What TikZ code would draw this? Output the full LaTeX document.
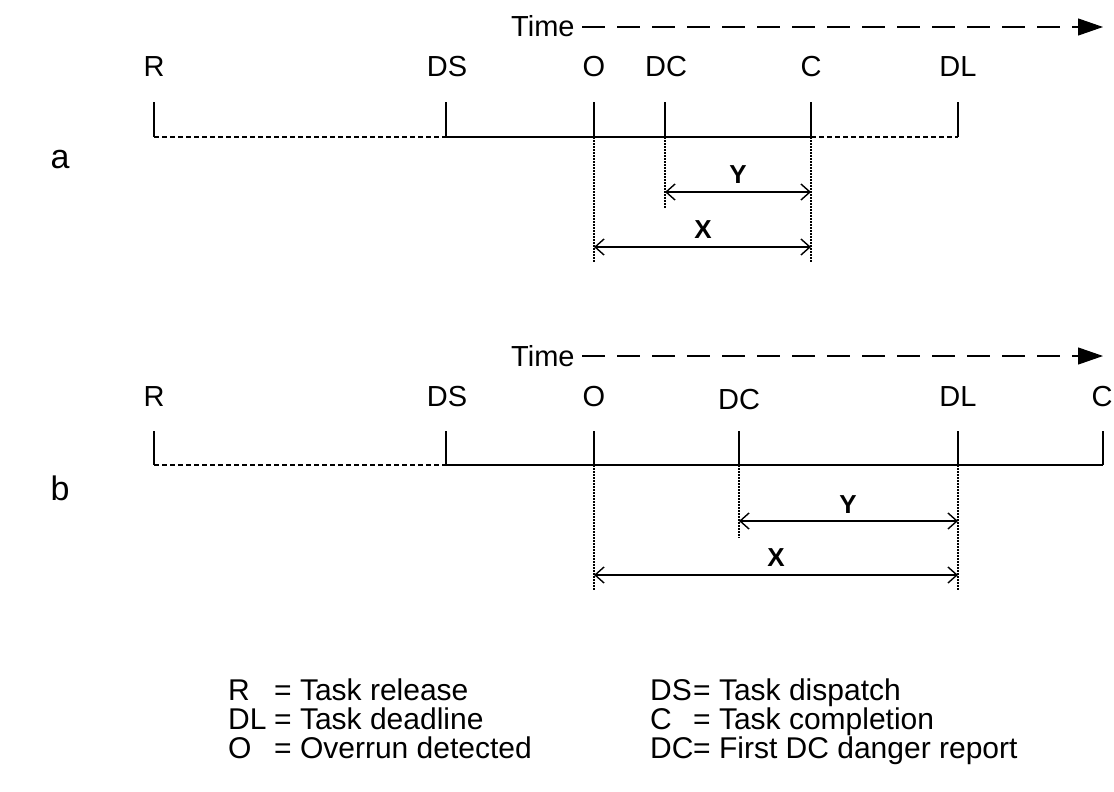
\documentclass[tikz,border=0pt]{standalone}
\usepackage{fontspec}
\setmainfont{Liberation Sans}
\usetikzlibrary{arrows.meta}
\tikzset{
  lab/.style={font=\fontsize{29}{34}\selectfont, inner sep=0pt, anchor=base},
  timelab/.style={font=\fontsize{29}{34}\selectfont, inner sep=0pt, anchor=base west},
  panel/.style={font=\fontsize{34}{40}\selectfont, inner sep=0pt},
  dimlab/.style={font=\bfseries\fontsize{26}{30}\selectfont, inner sep=0pt},
  leg/.style={font=\fontsize{30}{34}\selectfont, inner sep=0pt, anchor=base west},
  tick/.style={line width=1.4pt},
  solidbase/.style={line width=1.4pt},
  dashbase/.style={line width=1.4pt, dash pattern=on 5pt off 3pt},
  guide/.style={line width=1.2pt, dash pattern=on 1.5pt off 1.5pt},
  dimarrow/.style={line width=1.4pt, {Straight Barb[length=9pt,width=16pt]}-{Straight Barb[length=9pt,width=16pt]}},
  timearrow/.style={line width=1.2pt, dash pattern=on 23pt off 12pt, -{Triangle[length=25pt,width=17pt]}},
}
\begin{document}
\begin{tikzpicture}[x=1pt,y=-1pt]
\useasboundingbox (0,0) rectangle (1114,792);

% ---------------- panel a ----------------
\node[panel] (pa) at (60,160) {a};
\node[timelab] (timea) at (511,37) {Time};
\coordinate (timeastart) at (582,27);
\coordinate (timeaend) at (1103,27);
\draw[timearrow] (timeastart) -- (timeaend);

\node[lab] (aRl)  at (154,77) {R};
\node[lab] (aDSl) at (447,77) {DS};
\node[lab] (aOl)  at (594,77) {O};
\node[lab] (aDCl) at (666,77) {DC};
\node[lab] (aCl)  at (811,77) {C};
\node[lab] (aDLl) at (958,77) {DL};

\foreach \n/\x in {R/154, DS/446, O/594, DC/665, C/811, DL/958}{
  \coordinate (a\n t) at (\x,102);
  \coordinate (a\n b) at (\x,137);
  \draw[tick] (a\n t) -- (a\n b);
}
\draw[dashbase] (aRb) -- (aDSb);
\draw[solidbase] (aDSb) -- (aCb);
\draw[dashbase] (aCb) -- (aDLb);

\coordinate (aOd) at (594,262);
\coordinate (aDCd) at (665,208);
\coordinate (aCd) at (811,262);
\draw[guide] (aOb) -- (aOd);
\draw[guide] (aDCb) -- (aDCd);
\draw[guide] (aCb) -- (aCd);

\coordinate (aY1) at (665,192);
\coordinate (aY2) at (811,192);
\draw[dimarrow] (aY1) -- (aY2);
\node[dimlab] (aY) at (738,175) {Y};
\coordinate (aX1) at (594,247);
\coordinate (aX2) at (811,247);
\draw[dimarrow] (aX1) -- (aX2);
\node[dimlab] (aX) at (703,230) {X};

% ---------------- panel b ----------------
\node[panel] (pb) at (60,488) {b};
\node[timelab] (timeb) at (511,366) {Time};
\coordinate (timebstart) at (582,356);
\coordinate (timebend) at (1103,356);
\draw[timearrow] (timebstart) -- (timebend);

\node[lab] (bRl)  at (154,406) {R};
\node[lab] (bDSl) at (447,406) {DS};
\node[lab] (bOl)  at (594,406) {O};
\node[lab] (bDCl) at (739,409) {DC};
\node[lab] (bDLl) at (958,406) {DL};
\node[lab] (bCl)  at (1102,406) {C};

\foreach \n/\x in {R/154, DS/446, O/594, DC/739, DL/958, C/1103}{
  \coordinate (b\n t) at (\x,431);
  \coordinate (b\n b) at (\x,465);
  \draw[tick] (b\n t) -- (b\n b);
}
\draw[dashbase] (bRb) -- (bDSb);
\draw[solidbase] (bDSb) -- (bCb);

\coordinate (bOd) at (594,590);
\coordinate (bDCd) at (739,538);
\coordinate (bDLd) at (958,590);
\draw[guide] (bOb) -- (bOd);
\draw[guide] (bDCb) -- (bDCd);
\draw[guide] (bDLb) -- (bDLd);

\coordinate (bY1) at (739,521);
\coordinate (bY2) at (958,521);
\draw[dimarrow] (bY1) -- (bY2);
\node[dimlab] (bY) at (848,505) {Y};
\coordinate (bX1) at (594,575);
\coordinate (bX2) at (958,575);
\draw[dimarrow] (bX1) -- (bX2);
\node[dimlab] (bX) at (776,558) {X};

% ---------------- legend ----------------
\node[leg] (l1a) at (228,700) {R};
\node[leg] (l1b) at (274,700) {= Task release};
\node[leg] (l2a) at (228,729) {DL};
\node[leg] (l2b) at (274,729) {= Task deadline};
\node[leg] (l3a) at (228,758) {O};
\node[leg] (l3b) at (274,758) {= Overrun detected};

\node[leg] (r1a) at (650,700) {DS};
\node[leg] (r1b) at (693,700) {= Task dispatch};
\node[leg] (r2a) at (650,729) {C};
\node[leg] (r2b) at (693,729) {= Task completion};
\node[leg] (r3a) at (650,758) {DC};
\node[leg] (r3b) at (693,758) {= First DC danger report};
\end{tikzpicture}
\end{document}
